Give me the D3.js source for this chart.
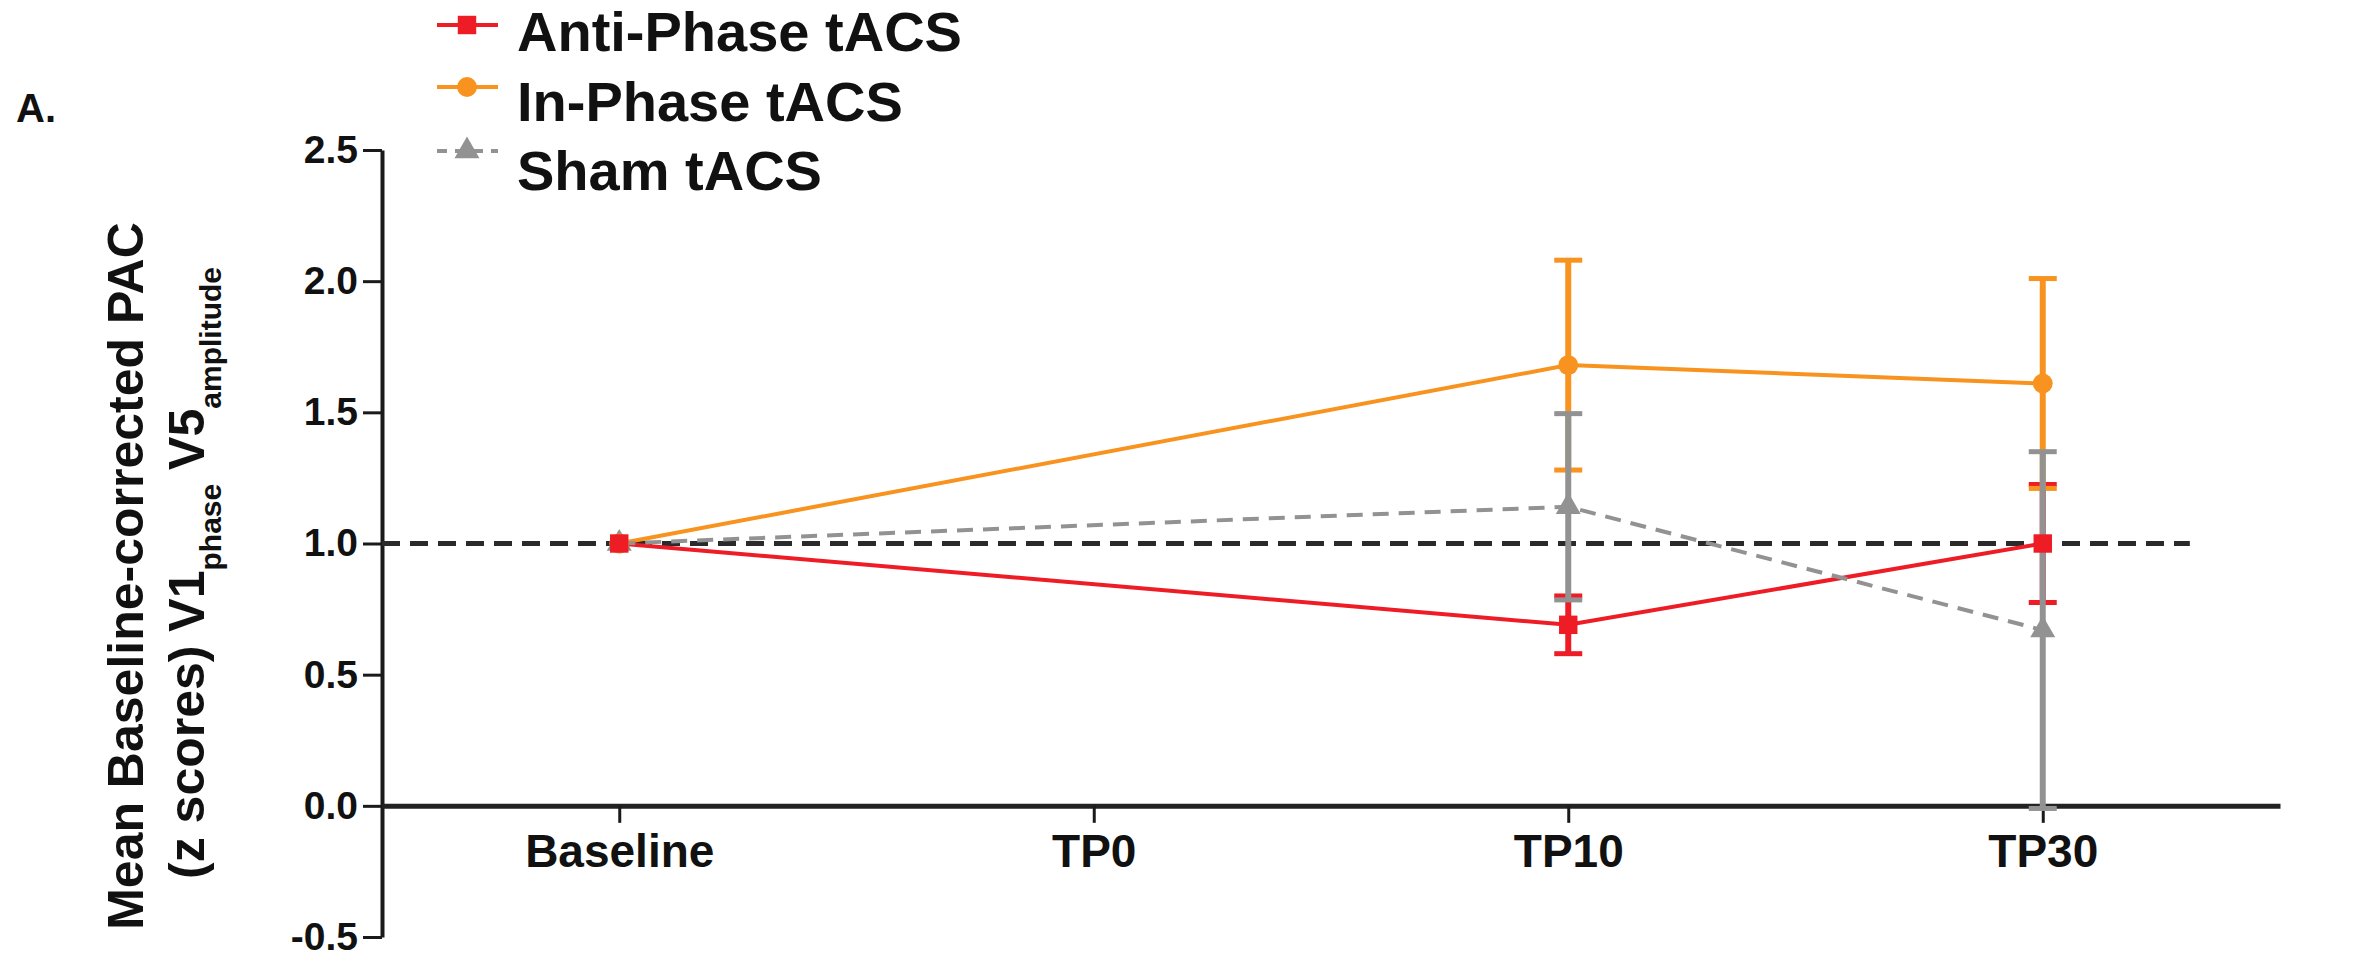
<!DOCTYPE html>
<html>
<head>
<meta charset="utf-8">
<script src="https://cdn.jsdelivr.net/npm/d3@7"></script>
<style>
    body { margin: 0; background: #fff; }
    svg text { font-family: "Liberation Sans", Arial, sans-serif; font-weight: bold; fill: #111; }
</style>
</head>
<body>
<div id="graph"></div>
<script>
// Values (mean and SEM, TP0 has no data)
const categories = ["Baseline", "TP0", "TP10", "TP30"];
const yTicks = [-0.5, 0.0, 0.5, 1.0, 1.5, 2.0, 2.5];
const antiPhaseMean = [1.0, null, 0.69, 1.0];
const antiPhaseSem = [0, null, 0.11, 0.225];
const inPhaseMean = [1.0, null, 1.68, 1.61];
const inPhaseSem = [0, null, 0.40, 0.40];
const shamMean = [1.0, null, 1.14, 0.67];
const shamSem = [0, null, 0.355, 0.68];
const referenceLevel = 1.0;
const legendLabels = ["Anti-Phase tACS", "In-Phase tACS", "Sham tACS"];

const pacChart = {
    series: [
        { name: legendLabels[0], mean: antiPhaseMean, sem: antiPhaseSem, color: "#ee1c25", symbol: d3.symbolSquare, size: 340, dash: null },
        { name: legendLabels[1], mean: inPhaseMean, sem: inPhaseSem, color: "#f7931e", symbol: d3.symbolCircle, size: 310, dash: null },
        { name: legendLabels[2], mean: shamMean, sem: shamSem, color: "#929292", symbol: d3.symbolTriangle, size: 270, dash: "16,10" }
    ],

    init: function (width, height) {
        this.svg = d3.select("#graph").append("svg")
            .attr("width", width)
            .attr("height", height);

        // Scales: categories spread with half a step of padding on both ends
        this.x = d3.scalePoint().domain(categories).range([382, 2280]).padding(0.5);
        this.y = d3.scaleLinear().domain([-0.5, 2.5]).range([937, 150]);

        this.drawAxes();
        this.drawSeries();
        this.drawLegend();
        this.drawLabels();
    },

    drawAxes: function () {
        const x = this.x, y = this.y;

        const leftAxis = d3.axisLeft(y)
            .tickValues(yTicks)
            .tickFormat(d => d.toFixed(1))
            .tickSize(19).tickSizeOuter(0).tickPadding(5);
        const gy = this.svg.append("g").attr("transform", `translate(${x.range()[0]}, 0)`).call(leftAxis);
        gy.select(".domain").attr("stroke", "#1a1a1a").attr("stroke-width", 4);
        gy.selectAll(".tick line").attr("stroke", "#1a1a1a").attr("stroke-width", 3);
        gy.selectAll(".tick text").attr("font-size", 39).attr("fill", "#111");

        const bottomAxis = d3.axisBottom(x).tickSize(17).tickSizeOuter(0).tickPadding(12);
        const gx = this.svg.append("g").attr("transform", `translate(0, ${y(0)})`).call(bottomAxis);
        gx.select(".domain").attr("stroke", "#222").attr("stroke-width", 5);
        gx.selectAll(".tick line").attr("stroke", "#1a1a1a").attr("stroke-width", 3);
        gx.selectAll(".tick text").attr("font-size", 46).attr("fill", "#111");

        // Dashed reference line at 1.0
        this.svg.append("line")
            .attr("x1", x.range()[0])
            .attr("x2", x(categories[categories.length - 1]) + x.step() * 0.31)
            .attr("y1", y(referenceLevel)).attr("y2", y(referenceLevel))
            .attr("stroke", "#2a2a2a").attr("stroke-width", 5)
            .attr("stroke-dasharray", "18,10");
    },

    drawSeries: function () {
        const x = this.x, y = this.y;
        const points = s => categories
            .map((c, i) => ({ cat: c, mean: s.mean[i], sem: s.sem[i] }))
            .filter(d => d.mean !== null);

        // Error bars first
        const bars = this.svg.append("g");
        this.series.forEach(s => {
            const g = bars.append("g").attr("stroke", s.color);
            const data = points(s).filter(d => d.sem > 0);
            g.selectAll(".bar").data(data).join("line")
                .attr("x1", d => x(d.cat)).attr("x2", d => x(d.cat))
                .attr("y1", d => y(d.mean - d.sem)).attr("y2", d => y(d.mean + d.sem))
                .attr("stroke-width", 6);
            g.selectAll(".cap").data(data.flatMap(d => [d.mean - d.sem, d.mean + d.sem].map(v => ({ cat: d.cat, v }))))
                .join("line")
                .attr("x1", d => x(d.cat) - 14).attr("x2", d => x(d.cat) + 14)
                .attr("y1", d => y(d.v)).attr("y2", d => y(d.v))
                .attr("stroke-width", 5);
        });

        // Connecting lines (TP0 skipped)
        const line = d3.line().x(d => x(d.cat)).y(d => y(d.mean));
        this.series.forEach(s => {
            this.svg.append("path")
                .datum(points(s))
                .attr("fill", "none")
                .attr("stroke", s.color)
                .attr("stroke-width", 4)
                .attr("stroke-dasharray", s.dash)
                .attr("d", line);
        });

        // Markers, red drawn last so it sits on top
        this.series.slice().reverse().forEach(s => {
            this.svg.append("g").selectAll("path").data(points(s)).join("path")
                .attr("d", d3.symbol().type(s.symbol).size(s.size))
                .attr("transform", d => `translate(${x(d.cat)}, ${y(d.mean)})`)
                .attr("fill", s.color);
        });
    },

    drawLegend: function () {
        const markerY = [25, 87, 151];
        const textY = [51, 121, 190];
        const lg = this.svg.append("g");
        this.series.forEach((s, i) => {
            lg.append("line")
                .attr("x1", 437).attr("x2", 498)
                .attr("y1", markerY[i]).attr("y2", markerY[i])
                .attr("stroke", s.color).attr("stroke-width", 4)
                .attr("stroke-dasharray", s.dash ? "10,8" : null);
            lg.append("path")
                .attr("d", d3.symbol().type(s.symbol).size(s.size))
                .attr("transform", `translate(467, ${markerY[i]})`)
                .attr("fill", s.color);
            lg.append("text")
                .attr("x", 517).attr("y", textY[i])
                .attr("font-size", 56)
                .text(s.name);
        });
    },

    drawLabels: function () {
        this.svg.append("text")
            .attr("x", 16).attr("y", 122)
            .attr("font-size", 40)
            .text("A.");

        this.svg.append("text")
            .attr("transform", "translate(143, 576) rotate(-90)")
            .attr("text-anchor", "middle")
            .attr("font-size", 50)
            .text("Mean Baseline-corrected PAC");

        const t = this.svg.append("text")
            .attr("transform", "translate(204, 573) rotate(-90)")
            .attr("text-anchor", "middle")
            .attr("font-size", 50);
        t.append("tspan").text("(z scores) V1");
        t.append("tspan").attr("font-size", 30).attr("dy", 17).text("phase");
        t.append("tspan").attr("dy", -17).text(" V5");
        t.append("tspan").attr("font-size", 30).attr("dy", 17).text("amplitude");
    }
};

document.addEventListener("DOMContentLoaded", function () {
    pacChart.init(2373, 968);
});
</script>
</body>
</html>
